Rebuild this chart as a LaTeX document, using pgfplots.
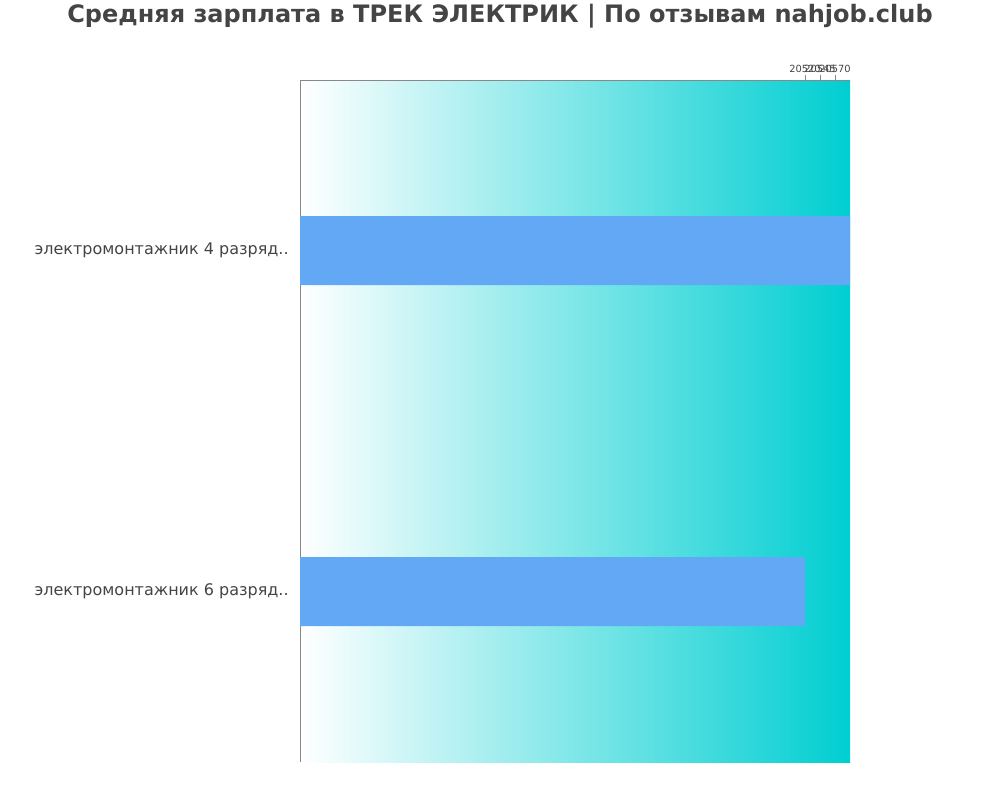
\documentclass[border=0pt]{standalone}
\usepackage{pgfplots}
\pgfplotsset{compat=1.18}
\usepackage{fontspec}
\setmainfont{DejaVu Sans}
\definecolor{txt}{HTML}{444444}
\definecolor{barc}{HTML}{63A8F5}
\definecolor{turq}{HTML}{00CED1}
\definecolor{axc}{HTML}{888888}

\begin{document}
\begin{tikzpicture}
	\path[use as bounding box] (0pt,0pt) rectangle (750pt,600pt);
	\node[txt, font=\bfseries\fontsize{18}{21}\selectfont] at (375pt,588pt) {Средняя зарплата в ТРЕК ЭЛЕКТРИК | По отзывам nahjob.club};
	\begin{axis}[
		at={(225pt,28.5pt)}, anchor=south west,
		scale only axis,
		width=412.5pt, height=511.5pt,
		xbar, bar width=51.75pt,
		xmin=19678.3, xmax=20595,
		ymin=-0.5, ymax=1.5,
		y dir=reverse,
		axis x line*=top,
		axis y line*=left,
		axis line style={axc},
		x axis line style={-},
		y axis line style={-},
		xtick={20520,20545,20570},
		xticklabels={20520,20545,20570},
		scaled x ticks=false,
		xtick pos=upper,
		xticklabel pos=upper,
		tick align=outside,
		major tick length=4pt,
		x tick style={axc},
		xticklabel style={font=\fontsize{7.4}{8}\selectfont, text=txt, yshift=-2pt},
		/pgf/number format/assume math mode=true,
		ytick={0,1},
		yticklabels={электромонтажник 4 разряд..,электромонтажник 6 разряд..},
		yticklabel style={font=\fontsize{12}{14}\selectfont, text=txt, xshift=-1pt},
		y tick style={draw=none},
		axis background/.style={left color=white, right color=turq},
		clip=true,
	]
		\addplot[fill=barc, draw=none] coordinates {(20595,0) (20520,1)};
	\end{axis}
\end{tikzpicture}
\end{document}
